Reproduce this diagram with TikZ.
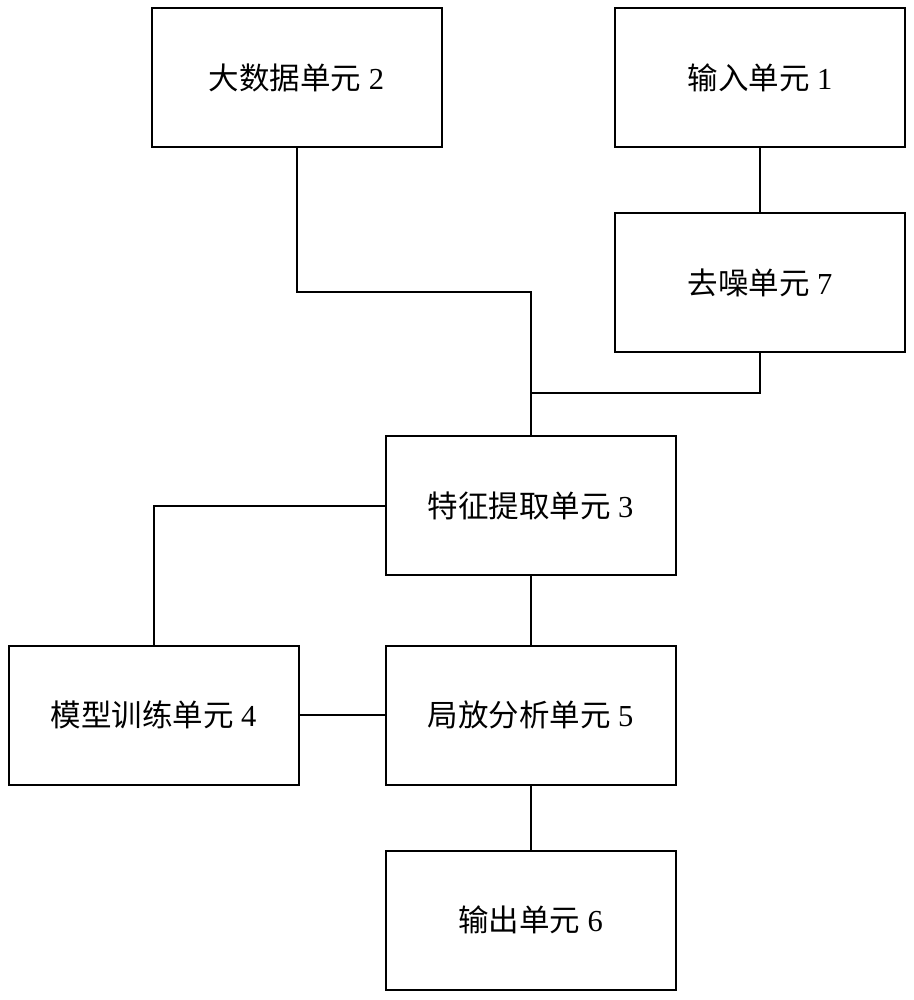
\documentclass[tikz,border=0pt]{standalone}
\usepackage{fontspec}
\setmainfont{Liberation Serif}
\newfontfamily\cjk{Noto Sans CJK SC}
\begin{document}
\begin{tikzpicture}[x=1pt,y=1pt,
  unit/.style={draw,line width=2pt,minimum width=290pt,minimum height=139pt,inner sep=0pt,font=\fontsize{30.5}{36}\selectfont},
  link/.style={line width=2pt}]
\useasboundingbox (0,0) rectangle (913,-1000);
\node[unit] (b2) at (296.5,-78) {{\cjk 大数据单元} 2};
\node[unit] (b1) at (760,-78) {{\cjk 输入单元} 1};
\node[unit] (b7) at (760,-282.5) {{\cjk 去噪单元} 7};
\node[unit] (b3) at (530.5,-505.5) {{\cjk 特征提取单元} 3};
\node[unit] (b4) at (153.5,-715) {{\cjk 模型训练单元} 4};
\node[unit] (b5) at (530.5,-715) {{\cjk 局放分析单元} 5};
\node[unit] (b6) at (530.5,-920) {{\cjk 输出单元} 6};
\coordinate (j1) at (530.5,-292);
\coordinate (j2) at (530.5,-393);
\draw[link] (b2.south) |- (j1) -- (b3.north);
\draw[link] (b1) -- (b7);
\draw[link] (b7.south) |- (j2);
\draw[link] (b3.west) -| (b4.north);
\draw[link] (b3) -- (b5);
\draw[link] (b4) -- (b5);
\draw[link] (b5) -- (b6);
\end{tikzpicture}
\end{document}
